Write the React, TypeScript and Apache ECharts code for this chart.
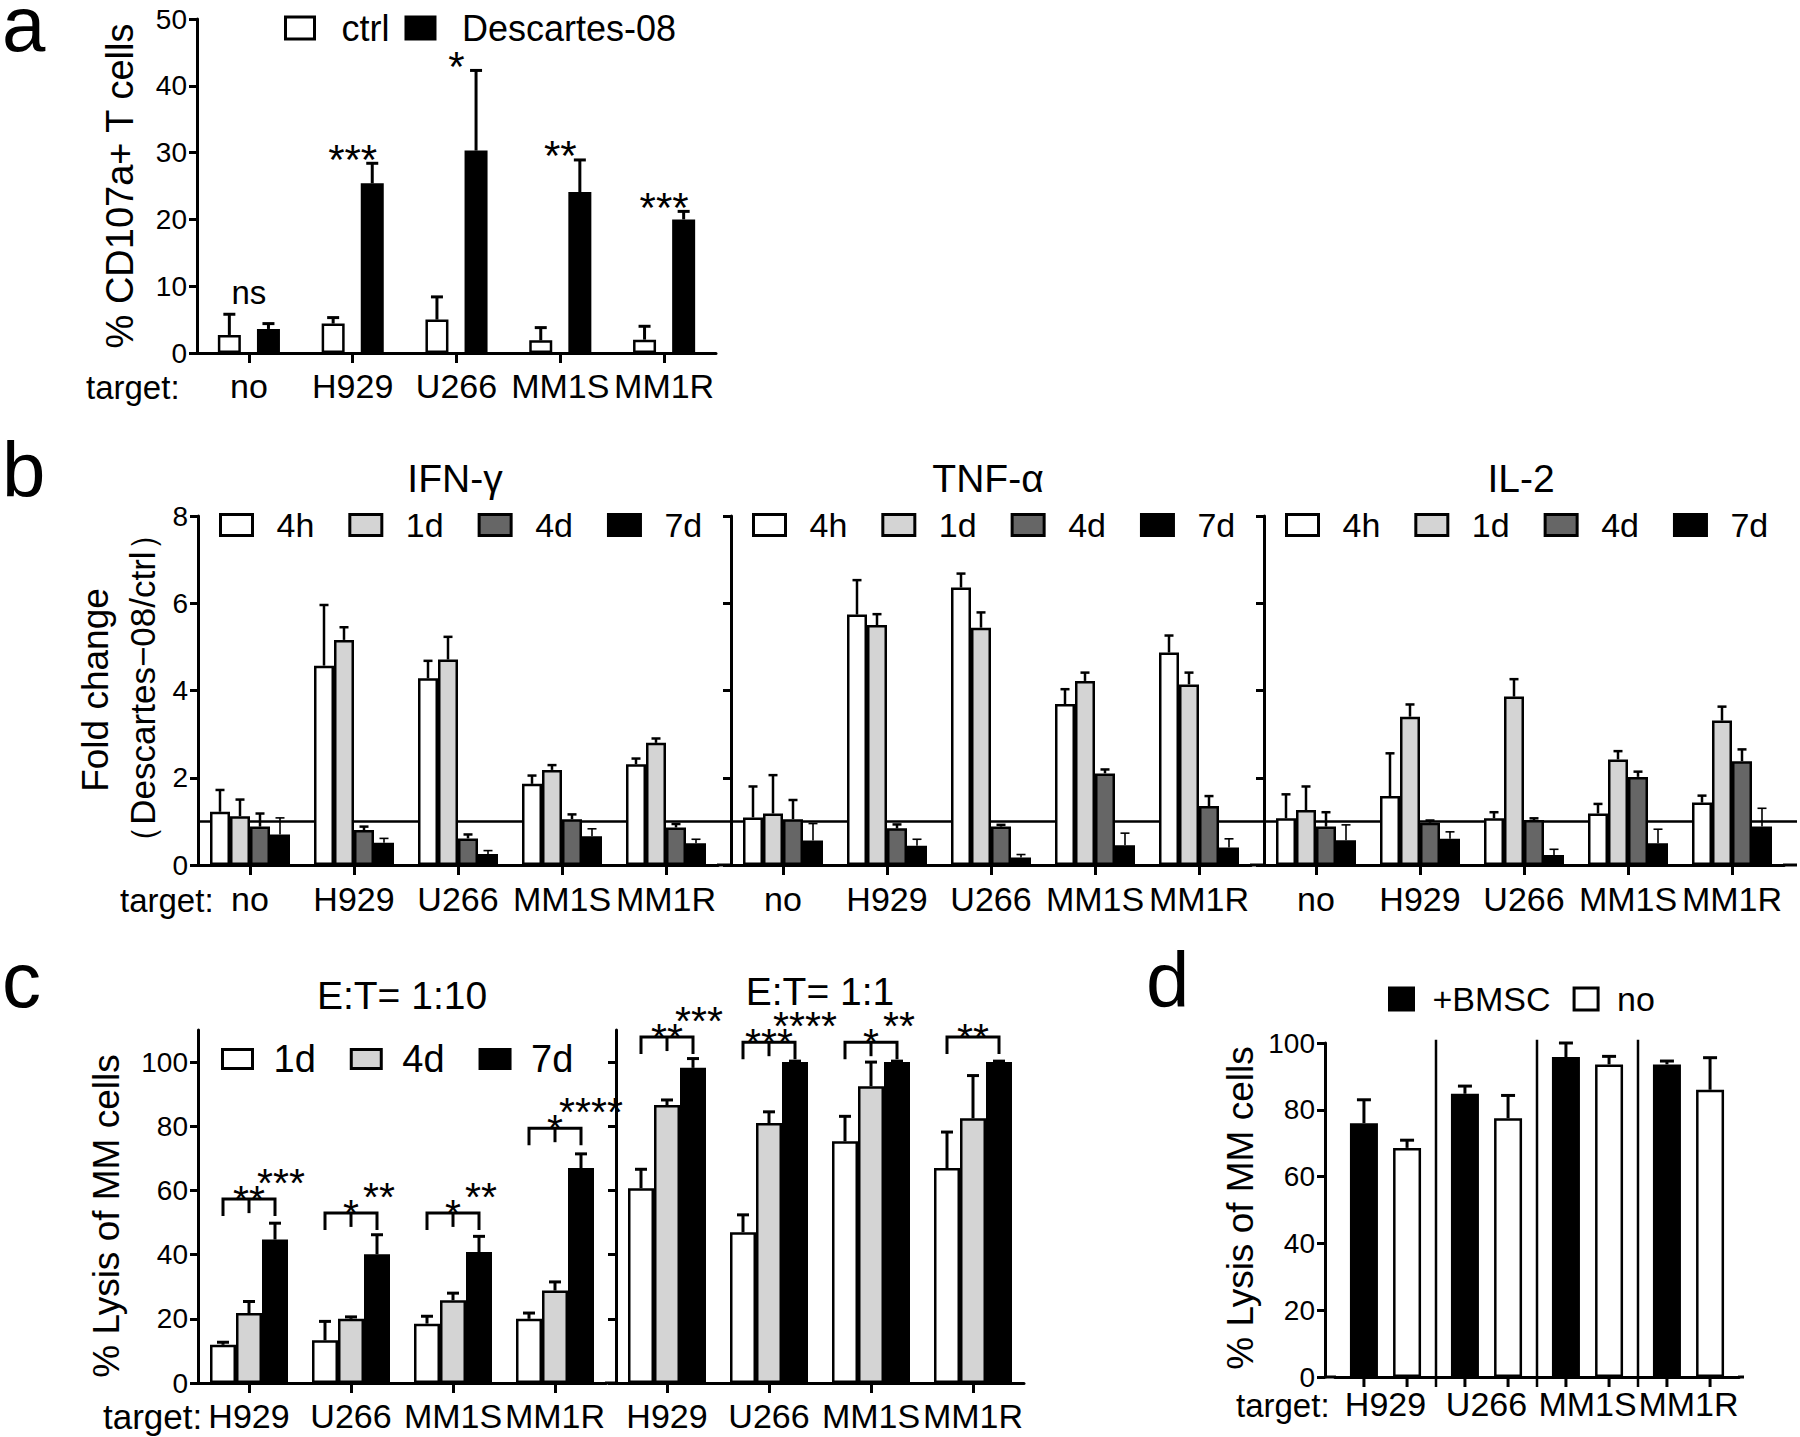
import React, { useEffect, useRef } from "react";
import * as echarts from "echarts";

const FONT = '"Liberation Sans", Arial, Helvetica, sans-serif';

/* ---------------- Panel a ---------------- */
const aCategories = ["no", "H929", "U266", "MM1S", "MM1R"];
const aNames = ["ctrl", "Descartes-08"];
const aCtrl = [2.7, 4.4, 5.0, 1.9, 2.0];
const aCtrlTop = [5.8, 5.3, 8.4, 3.8, 4.0];
const aDesc = [3.6, 25.4, 30.3, 24.1, 20.0];
const aDescTop = [4.4, 28.4, 42.3, 28.9, 21.2];
const aSig = ["ns", "***", "*", "**", "***"];

/* ---------------- Panel b ---------------- */
const bCategories = ["no", "H929", "U266", "MM1S", "MM1R"];
const bTimes = ["4h", "1d", "4d", "7d"];
const bTitles = ["IFN-γ", "TNF-α", "IL-2"];
// IFN-γ
const ifn4h = [1.22, 4.57, 4.28, 1.86, 2.31];
const ifn4hTop = [1.72, 5.96, 4.68, 2.05, 2.44];
const ifn1d = [1.12, 5.16, 4.71, 2.18, 2.8];
const ifn1dTop = [1.5, 5.45, 5.23, 2.29, 2.9];
const ifn4d = [0.88, 0.8, 0.61, 1.05, 0.86];
const ifn4dTop = [1.18, 0.88, 0.7, 1.16, 0.94];
const ifn7d = [0.7, 0.51, 0.25, 0.66, 0.5];
const ifn7dTop = [1.08, 0.61, 0.33, 0.83, 0.59];
// TNF-α
const tnf4h = [1.09, 5.74, 6.36, 3.69, 4.87];
const tnf4hTop = [1.8, 6.53, 6.68, 4.03, 5.26];
const tnf1d = [1.18, 5.5, 5.44, 4.22, 4.14];
const tnf1dTop = [2.06, 5.75, 5.79, 4.41, 4.41];
const tnf4d = [1.05, 0.84, 0.88, 2.1, 1.35];
const tnf4dTop = [1.49, 0.93, 0.92, 2.19, 1.58];
const tnf7d = [0.56, 0.44, 0.17, 0.45, 0.4];
const tnf7dTop = [0.95, 0.59, 0.24, 0.73, 0.6];
// IL-2
const il4h = [1.07, 1.58, 1.07, 1.18, 1.43];
const il4hTop = [1.62, 2.56, 1.21, 1.4, 1.59];
const il1d = [1.26, 3.4, 3.86, 2.42, 3.31];
const il1dTop = [1.8, 3.68, 4.26, 2.61, 3.63];
const il4d = [0.88, 0.97, 1.03, 2.02, 2.38];
const il4dTop = [1.21, 1.02, 1.07, 2.14, 2.65];
const il7d = [0.57, 0.6, 0.23, 0.5, 0.88];
const il7dTop = [0.92, 0.76, 0.36, 0.82, 1.3];
const bRefValue = 1;

/* ---------------- Panel c ---------------- */
const cCategories = ["H929", "U266", "MM1S", "MM1R"];
const cTimes = ["1d", "4d", "7d"];
const cTitles = ["E:T= 1:10", "E:T= 1:1"];
const c10_1d = [11.9, 13.3, 18.5, 20.0];
const c10_1dTop = [12.7, 19.2, 20.8, 21.8];
const c10_4d = [21.8, 20.0, 25.8, 28.8];
const c10_4dTop = [25.4, 20.6, 28.0, 31.5];
const c10_7d = [44.7, 40.1, 40.8, 67.0];
const c10_7dTop = [49.8, 46.2, 45.7, 71.4];
const c1_1d = [60.7, 47.0, 75.3, 67.0];
const c1_1dTop = [66.6, 52.4, 83.1, 78.2];
const c1_4d = [86.6, 81.0, 92.5, 82.5];
const c1_4dTop = [88.2, 84.5, 100.0, 95.8];
const c1_7d = [98.2, 100.0, 100.0, 100.0];
const c1_7dTop = [101.1, 100.3, 100.3, 100.3];
const cYTicks = [0, 20, 40, 60, 80, 100];
// significance brackets (height of bracket, labels)
const c10BracketAt = [57.3, 53.0, 53.0, 79.4];
const c10Sig1 = ["**", "*", "*", "*"];
const c10Sig2 = ["***", "**", "**", "****"];
const c10Mid = [true, true, true, true];
const c1BracketAt = [107.8, 106.2, 106.2, 107.8];
const c1Sig1 = ["**", "***", "*", "**"];
const c1Sig2 = ["***", "****", "**", ""];
const c1Mid = [true, true, true, false];

/* ---------------- Panel d ---------------- */
const dCategories = ["H929", "U266", "MM1S", "MM1R"];
const dNames = ["+BMSC", "no"];
const dBmsc = [76.0, 84.8, 95.8, 93.6];
const dBmscTop = [83.0, 87.1, 100.0, 94.6];
const dNo = [68.6, 77.5, 93.6, 86.0];
const dNoTop = [70.9, 84.3, 96.0, 95.6];

/* ---------------- helpers ---------------- */
const BLACK = "#000";
const WHITE = "#fff";
const LIGHT = "#d4d4d4";
const DARK = "#666666";

function xCat(gridIndex: number, data: string[], extra: any = {}) {
  return {
    type: "category",
    gridIndex,
    data,
    axisLine: { show: true, lineStyle: { color: BLACK, width: 3 } },
    axisTick: { show: true, alignWithLabel: true, length: 10, lineStyle: { color: BLACK, width: 3 } },
    axisLabel: { show: true, interval: 0, color: BLACK, fontFamily: FONT, fontSize: 34, margin: 16 },
    splitLine: { show: false },
    ...extra,
  };
}

function yVal(gridIndex: number, max: number, interval: number, showLabels: boolean, extra: any = {}) {
  return {
    type: "value",
    gridIndex,
    min: 0,
    max,
    interval,
    axisLine: { show: true, lineStyle: { color: BLACK, width: 3 } },
    axisTick: { show: true, length: 8, lineStyle: { color: BLACK, width: 3 } },
    axisLabel: { show: showLabels, color: BLACK, fontFamily: FONT, fontSize: 28, margin: 10 },
    splitLine: { show: false },
    ...extra,
  };
}

function bar(name: string, axis: number, values: number[], color: string, bw: number, gapFrac: number) {
  return {
    type: "bar",
    name,
    xAxisIndex: axis,
    yAxisIndex: axis,
    data: values,
    barWidth: bw,
    barGap: `${gapFrac * 100}%`,
    z: 2,
    silent: true,
    itemStyle: { color, borderColor: BLACK, borderWidth: 2.5 },
  };
}

function errBars(axis: number, values: number[], tops: number[], k: number, n: number, bw: number, gapFrac: number, capW: number, lw: number) {
  const off = (k - (n - 1) / 2) * (bw + bw * gapFrac);
  return {
    type: "custom",
    xAxisIndex: axis,
    yAxisIndex: axis,
    z: 3,
    silent: true,
    data: values.map((v, i) => [i, v, tops[i]]),
    encode: { x: 0, y: [1, 2] },
    renderItem: (params: any, api: any) => {
      const i = api.value(0);
      const p0 = api.coord([i, api.value(1)]);
      const p1 = api.coord([i, api.value(2)]);
      const x = p0[0] + off;
      return {
        type: "group",
        children: [
          { type: "line", shape: { x1: x, y1: p0[1], x2: x, y2: p1[1] }, style: { stroke: BLACK, lineWidth: lw } },
          { type: "line", shape: { x1: x - capW / 2, y1: p1[1], x2: x + capW / 2, y2: p1[1] }, style: { stroke: BLACK, lineWidth: lw } },
        ],
      };
    },
  };
}

function txt(text: string, x: number, y: number, fontSize: number, align = "center", rotation = 0) {
  return {
    type: "text",
    x,
    y,
    rotation,
    silent: true,
    style: {
      text,
      fill: BLACK,
      fontSize,
      fontFamily: FONT,
      align,
      textAlign: align,
      verticalAlign: "middle",
      textVerticalAlign: "middle",
    },
  };
}

function hline(x1: number, x2: number, y: number, w = 3) {
  return { type: "line", silent: true, shape: { x1, y1: y, x2, y2: y }, style: { stroke: BLACK, lineWidth: w } };
}

function legend(data: string[], left: number, top: number, o: any) {
  return {
    data,
    left,
    top,
    orient: "horizontal",
    padding: 0,
    icon: "rect",
    selectedMode: false,
    itemWidth: o.w,
    itemHeight: o.h,
    itemGap: o.gap,
    itemStyle: { borderColor: BLACK, borderWidth: 3 },
    formatter: (name: string) => name.trim(),
    textStyle: { color: BLACK, fontFamily: FONT, fontSize: o.fs, lineHeight: o.fs, padding: [0, 0, 0, o.pad] },
  };
}

/* ---------------- layout ---------------- */
const G = [
  { left: 197, top: 19, width: 519, height: 334 }, // a
  { left: 198, top: 516, width: 520, height: 349 }, // b IFN
  { left: 731, top: 516, width: 520, height: 349 }, // b TNF
  { left: 1264, top: 516, width: 520, height: 349 }, // b IL-2
  { left: 198, top: 1030, width: 408, height: 353 }, // c 1:10
  { left: 616, top: 1030, width: 408, height: 353 }, // c 1:1
  { left: 1335, top: 1043, width: 404, height: 334 }, // d
];

function buildOption() {
  const series: any[] = [];

  // ----- a -----
  const aBW = 23, aGap = 0.7;
  series.push(bar(aNames[0], 0, aCtrl, WHITE, aBW, aGap));
  series.push(bar(aNames[1], 0, aDesc, BLACK, aBW, aGap));
  series.push(errBars(0, aCtrl, aCtrlTop, 0, 2, aBW, aGap, 12, 3));
  series.push(errBars(0, aDesc, aDescTop, 1, 2, aBW, aGap, 12, 3));
  series.push({
    type: "custom",
    xAxisIndex: 0,
    yAxisIndex: 0,
    z: 4,
    silent: true,
    data: aSig.map((_, i) => [i, Math.max(aCtrlTop[i], aDescTop[i])]),
    renderItem: (params: any, api: any) => {
      const s = aSig[params.dataIndex];
      const p = api.coord([api.value(0), api.value(1)]);
      const star = s.indexOf("*") >= 0;
      return {
        type: "text",
        x: p[0],
        y: p[1] - (star ? 4 : 22),
        style: { text: s, fill: BLACK, fontFamily: FONT, fontSize: star ? 42 : 33, align: "center", verticalAlign: "middle" },
      };
    },
  });

  // ----- b -----
  const bData = [
    [[ifn4h, ifn4hTop], [ifn1d, ifn1dTop], [ifn4d, ifn4dTop], [ifn7d, ifn7dTop]],
    [[tnf4h, tnf4hTop], [tnf1d, tnf1dTop], [tnf4d, tnf4dTop], [tnf7d, tnf7dTop]],
    [[il4h, il4hTop], [il1d, il1dTop], [il4d, il4dTop], [il7d, il7dTop]],
  ];
  const bColors = [WHITE, LIGHT, DARK, BLACK];
  const bErrW = [2.5, 2.5, 2.5, 1.6];
  const bBW = 20;
  bData.forEach((panel, p) => {
    const axis = 1 + p;
    series.push({
      type: "custom",
      xAxisIndex: axis,
      yAxisIndex: axis,
      z: 1,
      silent: true,
      data: [[0, bRefValue]],
      renderItem: (params: any, api: any) => {
        const cs = params.coordSys;
        const y = api.coord([0, api.value(1)])[1];
        return { type: "line", shape: { x1: cs.x, y1: y, x2: cs.x + cs.width + 13, y2: y }, style: { stroke: BLACK, lineWidth: 2.5 } };
      },
    });
    panel.forEach(([vals, tops], k) => {
      series.push(bar(bTimes[k], axis, vals, bColors[k], bBW, 0));
    });
    panel.forEach(([vals, tops], k) => {
      series.push(errBars(axis, vals, tops, k, 4, bBW, 0, 9, bErrW[k]));
    });
  });

  // ----- c -----
  const cData = [
    [[c10_1d, c10_1dTop], [c10_4d, c10_4dTop], [c10_7d, c10_7dTop]],
    [[c1_1d, c1_1dTop], [c1_4d, c1_4dTop], [c1_7d, c1_7dTop]],
  ];
  const cColors = [WHITE, LIGHT, BLACK];
  const cBW = 26;
  const cBr = [
    [c10BracketAt, c10Sig1, c10Sig2, c10Mid],
    [c1BracketAt, c1Sig1, c1Sig2, c1Mid],
  ];
  cData.forEach((panel, p) => {
    const axis = 4 + p;
    panel.forEach(([vals, tops], k) => {
      series.push(bar(cTimes[k] + " ", axis, vals, cColors[k], cBW, 0));
    });
    panel.forEach(([vals, tops], k) => {
      series.push(errBars(axis, vals, tops, k, 3, cBW, 0, 12, 3));
    });
    const [at, s1, s2, mid] = cBr[p] as any;
    series.push({
      type: "custom",
      xAxisIndex: axis,
      yAxisIndex: axis,
      z: 4,
      silent: true,
      data: at.map((v: number, i: number) => [i, v]),
      renderItem: (params: any, api: any) => {
        const idx = params.dataIndex;
        const pt = api.coord([api.value(0), api.value(1)]);
        const xm = pt[0], xl = xm - cBW, xr = xm + cBW, y = pt[1];
        const ch: any[] = [
          {
            type: "polyline",
            shape: { points: [[xl, y + 17], [xl, y], [xr, y], [xr, y + 17]] },
            style: { stroke: BLACK, lineWidth: 3, fill: null },
          },
        ];
        if (mid[idx]) ch.push({ type: "line", shape: { x1: xm, y1: y, x2: xm, y2: y + 14 }, style: { stroke: BLACK, lineWidth: 3 } });
        ch.push({ type: "text", x: xm, y: y + 1, style: { text: s1[idx], fill: BLACK, fontFamily: FONT, fontSize: 41, align: "center", verticalAlign: "middle" } });
        const s = s2[idx];
        if (s) ch.push({ type: "text", x: xr + 2 + (s.length - 2) * 4, y: y - 16, style: { text: s, fill: BLACK, fontFamily: FONT, fontSize: 41, align: "center", verticalAlign: "middle" } });
        return { type: "group", children: ch };
      },
    });
  });

  // ----- d -----
  const dBW = 28, dGap = 0.54;
  series.push(bar(dNames[0], 6, dBmsc, BLACK, dBW, dGap));
  series.push(bar(dNames[1], 6, dNo, WHITE, dBW, dGap));
  series.push(errBars(6, dBmsc, dBmscTop, 0, 2, dBW, dGap, 14, 3));
  series.push(errBars(6, dNo, dNoTop, 1, 2, dBW, dGap, 14, 3));
  const dOff = (dBW + dBW * dGap) / 2;
  series.push({
    type: "custom",
    xAxisIndex: 6,
    yAxisIndex: 6,
    z: 4,
    silent: true,
    data: dCategories.map((_, i) => [i, 0]),
    renderItem: (params: any, api: any) => {
      const i = api.value(0);
      const p = api.coord([i, 0]);
      const top = api.coord([i, 101])[1];
      const band = api.size([1, 0])[0];
      const ch: any[] = [
        { type: "line", shape: { x1: p[0] - dOff, y1: p[1], x2: p[0] - dOff, y2: p[1] + 10 }, style: { stroke: BLACK, lineWidth: 3 } },
        { type: "line", shape: { x1: p[0] + dOff, y1: p[1], x2: p[0] + dOff, y2: p[1] + 10 }, style: { stroke: BLACK, lineWidth: 3 } },
      ];
      if (i > 0) {
        const xs = p[0] - band / 2;
        ch.push({ type: "line", shape: { x1: xs, y1: p[1] + 10, x2: xs, y2: top }, style: { stroke: BLACK, lineWidth: 2.5 } });
      }
      return { type: "group", children: ch };
    },
  });

  const grid = G.map((g) => ({ ...g, containLabel: false, outerBoundsMode: "none", show: false }));

  const bLab = { show: true, interval: 0, color: BLACK, fontFamily: FONT, fontSize: 34, margin: 17 };
  const xAxis = [
    xCat(0, aCategories),
    xCat(1, bCategories, { axisLabel: bLab }),
    xCat(2, bCategories, { axisLabel: bLab }),
    xCat(3, bCategories, { axisLabel: bLab }),
    xCat(4, cCategories),
    xCat(5, cCategories),
    xCat(6, dCategories, {
      axisTick: { show: false },
      axisLabel: { show: true, interval: 0, color: BLACK, fontFamily: FONT, fontSize: 34, margin: 10 },
    }),
  ];

  const cY = (g: number, show: boolean) =>
    yVal(g, 110, 20, show, {
      axisLabel: { show, color: BLACK, fontFamily: FONT, fontSize: 28, margin: 10, customValues: cYTicks },
      axisTick: { show: true, length: 8, lineStyle: { color: BLACK, width: 3 }, customValues: cYTicks },
    });

  const yAxis = [
    yVal(0, 50, 10, true),
    yVal(1, 8, 2, true),
    yVal(2, 8, 2, false),
    yVal(3, 8, 2, false),
    cY(4, true),
    cY(5, false),
    yVal(6, 100, 20, true, { offset: 10 }),
  ];

  const legends = [
    legend(aNames, 284, 10, { w: 29, h: 22, gap: 15, fs: 36, pad: 22 }),
    legend(bTimes, 219, 508, { w: 32, h: 21, gap: 34, fs: 34, pad: 19 }),
    legend(bTimes, 752, 508, { w: 32, h: 21, gap: 34, fs: 34, pad: 19 }),
    legend(bTimes, 1285, 508, { w: 32, h: 21, gap: 34, fs: 34, pad: 19 }),
    legend(cTimes.map((t) => t + " "), 221, 1040, { w: 30, h: 19, gap: 34, fs: 38, pad: 16 }),
    legend(dNames, 1388, 982, { w: 24, h: 22, gap: 22, fs: 34, pad: 14 }),
  ];

  const graphic: any[] = [
    // panel letters
    txt("a", 2, 24, 78, "left"),
    txt("b", 2, 470, 78, "left"),
    txt("c", 2, 980, 78, "left"),
    txt("d", 1146, 980, 78, "left"),
    // target labels
    txt("target:", 86, 387, 33, "left"),
    txt("target:", 120, 900, 33, "left"),
    txt("target:", 103, 1416, 35, "left"),
    txt("target:", 1236, 1405, 33, "left"),
    // y axis names
    txt("% CD107a+ T cells", 120, 186, 38, "center", Math.PI / 2),
    txt("Fold change", 95, 690, 37, "center", Math.PI / 2),
    txt("（Descartes−08/ctrl）", 142, 688, 35, "center", Math.PI / 2),
    txt("% Lysis of MM cells", 106, 1216, 37, "center", Math.PI / 2),
    txt("% Lysis of MM cells", 1240, 1208, 37, "center", Math.PI / 2),
    // titles
    txt(bTitles[0], 455, 478, 39),
    txt(bTitles[1], 988, 478, 39),
    txt(bTitles[2], 1521, 478, 39),
    txt(cTitles[0], 402, 995, 39),
    txt(cTitles[1], 820, 991, 39),
    // axis line extensions
    hline(717, 732, 865),
    hline(1250, 1265, 865),
    hline(1783, 1797, 865),
    hline(605, 617, 1383),
    hline(1324, 1336, 1377),
    hline(1738, 1744, 1377),
  ];

  return {
    animation: false,
    backgroundColor: "#fff",
    textStyle: { fontFamily: FONT, color: BLACK },
    grid,
    xAxis,
    yAxis,
    legend: legends,
    series,
    graphic,
  };
}

export default function App() {
  const ref = useRef<HTMLDivElement>(null);
  useEffect(() => {
    const chart = echarts.init(ref.current as HTMLDivElement, null, { renderer: "svg" });
    chart.setOption(buildOption() as any);
    return () => chart.dispose();
  }, []);
  return (
    <div
      ref={ref}
      style={{ position: "absolute", left: 0, top: 0, width: 1800, height: 1437, background: "#fff" }}
    />
  );
}
